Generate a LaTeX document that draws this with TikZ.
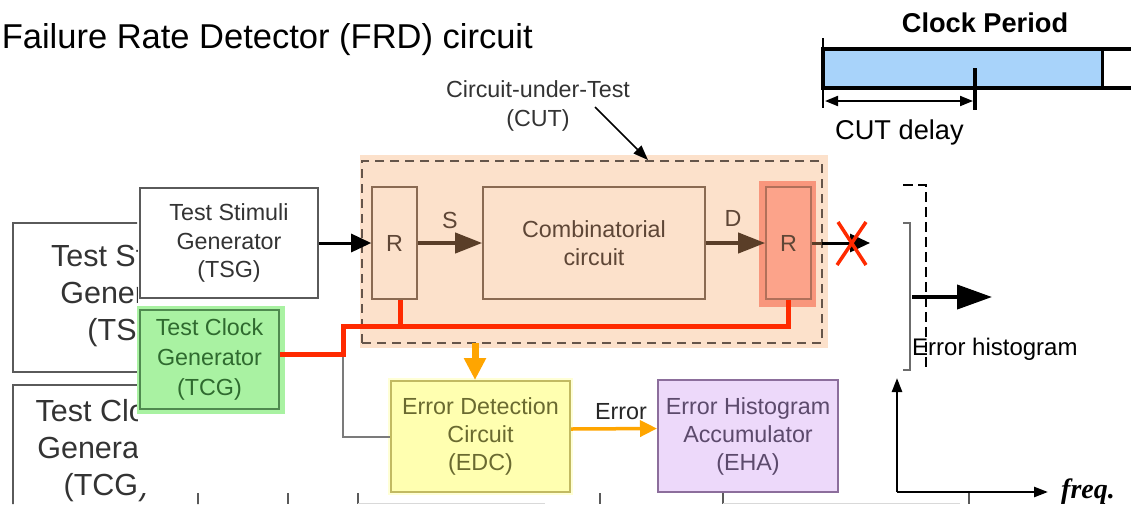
\documentclass[tikz,border=0pt]{standalone}
\usepackage{fontspec}
\setmainfont{Liberation Sans}
\newfontfamily\timesfont{Liberation Serif}
\usetikzlibrary{arrows.meta}

\definecolor{peach}{HTML}{FCE1CB}
\definecolor{cutdash}{HTML}{65554A}
\definecolor{brownln}{HTML}{8A6A52}
\definecolor{browntx}{HTML}{5E4636}
\definecolor{brownarr}{HTML}{5A3E28}
\definecolor{salmonhalo}{HTML}{F8967C}
\definecolor{salmon}{HTML}{FCA38A}
\definecolor{salmonln}{HTML}{B0705A}
\definecolor{clkred}{HTML}{FF2A00}
\definecolor{greenfill}{HTML}{A9F2A2}
\definecolor{greenln}{HTML}{4F8A4F}
\definecolor{greentx}{HTML}{2F6A2F}
\definecolor{yelfill}{HTML}{FFFFB0}
\definecolor{yelhalo}{HTML}{FFFFD6}
\definecolor{yelln}{HTML}{C2BA62}
\definecolor{yeltx}{HTML}{6A6A30}
\definecolor{purfill}{HTML}{EDD9FA}
\definecolor{purln}{HTML}{8C6E9C}
\definecolor{purtx}{HTML}{5C4A6C}
\definecolor{orng}{HTML}{FFA500}
\definecolor{barblue}{HTML}{A8D3FA}
\definecolor{txgray}{HTML}{333333}
\definecolor{boxgray}{HTML}{5A5A5A}

\newcommand\fgsize[1]{\fontsize{23.3}{#1}\selectfont}
\newcommand\bgsize{\fontsize{30.5}{37}\selectfont}

\begin{document}
\begin{tikzpicture}[x=1pt,y=-1pt,
  blockbox/.style={draw=boxgray, line width=2, inner sep=0, align=center,
    text=txgray, font=\fgsize{28.5}},
  oldtext/.style={inner sep=0, align=center, text=txgray, font=\bgsize},
  oldframe/.style={draw=boxgray, line width=2.5},
  regbox/.style={draw=brownln, line width=1.6, fill=peach, inner sep=0,
    align=center, text=browntx, font=\fgsize{28.5}},
  plainlbl/.style={inner sep=0, text=txgray, font=\fgsize{28.5}, align=center},
  blkarrow/.style={line width=3, -{Triangle[length=20pt,width=18pt]}},
  brarrow/.style={brownarr, line width=4, -{Triangle[length=27pt,width=20pt]}},
  clkline/.style={clkred, line width=5},
  orarrow/.style={orng, line width=3.5, -{Triangle[length=17pt,width=16pt]}},
  axisarrow/.style={line width=2.5, -{Triangle[length=14pt,width=10pt]}},
]
\useasboundingbox (0,0) rectangle (1131,504);

% ---------- slide underneath ----------
\node[anchor=base east, inner sep=0, font=\fontsize{34.5}{40}\selectfont]
  (title) at (533,48) {Failure Rate Detector (FRD) circuit};

% older generator blocks, mostly covered by the block diagram on top
\begin{scope}
  \clip (0,60) rectangle (137,504) (137,493) rectangle (1131,504);
  \draw[oldframe] (13,223) rectangle (243,372);
  \node[oldtext] (oldtsg) at (129,296) {Test Stimuli\\Generator\\(TSG)};
  \draw[oldframe] (13,520) -- (13,385) -- (198,385) -- (198,520);
  \node[oldtext] (oldtcg) at (106,451) {Test Clock\\Generator\\(TCG)};
\end{scope}

% edges of further blocks peeking out at the bottom
\draw[boxgray, line width=2] (288,493) -- (288,504);
\draw[boxgray, line width=2] (358,493) -- (358,504);
\draw[boxgray, line width=2] (600,493) -- (600,504);
\draw[boxgray, line width=2] (723,493) -- (723,504);
\draw[boxgray, line width=2] (969,492) -- (969,504);
\draw[gray!30, line width=1] (358,503) -- (545,503);
\draw[gray!30, line width=1] (723,503) -- (960,503);

% ---------- clock period bar ----------
\fill[barblue] (823,49) rectangle (1102,88);
\draw[line width=3.5] (823,49) rectangle (1134,88);
\draw[line width=3] (1102,49) -- (1102,88);
\draw[line width=2.5] (823,38) -- (823,108);
\draw[line width=3.5] (975,68) -- (975,110);
\coordinate (dl) at (825,101);
\coordinate (dr) at (973,101);
\draw[line width=2, {Triangle[length=13pt,width=10pt]}-{Triangle[length=13pt,width=10pt]}] (dl) -- (dr);
\node[anchor=base, inner sep=0, font=\bfseries\fontsize{27.2}{32}\selectfont]
  (clk) at (985,32) {Clock Period};
\node[anchor=base west, inner sep=0, font=\fontsize{27.2}{32}\selectfont]
  (cutdelay) at (835,139) {CUT delay};

% ---------- circuit under test ----------
\fill[peach] (360,155) rectangle (828,348);
\node[draw=cutdash, line width=2.5, dash pattern=on 9pt off 6pt,
  minimum width=460, minimum height=182, inner sep=0] (cut) at (592,252) {};

\node[plainlbl] (cutlbl) at (538,106) {Circuit-under-Test\\(CUT)};
\coordinate (lbltail) at (595,107);
\coordinate (cuttip) at (648,160);
\draw[line width=1.5, -{Triangle[length=15pt,width=11pt]}] (lbltail) -- (cuttip);

\node[regbox, minimum width=45, minimum height=112] (r1) at (394.5,243) {R};
\node[regbox, minimum width=222, minimum height=112] (comb) at (594,243)
  {Combinatorial\\circuit};
\fill[salmonhalo] (759,181) rectangle (816,307);
\node[regbox, draw=salmonln, fill=salmon, minimum width=45, minimum height=112]
  (r2) at (788.5,243) {R};

\draw[brarrow] (r1.east) -- (comb.west);
\draw[brarrow] (comb.east) -- (r2.west);
\node[plainlbl, text=browntx] (slbl) at (450,220) {S};
\node[plainlbl, text=browntx] (dlbl) at (733,218) {D};

% blocked output
\coordinate (outtip) at (870,243);
\draw[blkarrow] (r2.east) -- (outtip);
\draw[brownarr, line width=3] (r2.east) -- (822,243);
\draw[clkred, line width=3.5] (838,222) -- (866,265) (866,222) -- (837,265);

% ---------- generators ----------
\node[blockbox, fill=white, minimum width=178, minimum height=110] (tsg) at (229,243)
  {Test Stimuli\\Generator\\(TSG)};
\draw[blkarrow] (tsg.east) -- (r1.west);

\fill[greenfill] (137,306) rectangle (285,414);
\node[blockbox, draw=greenln, fill=greenfill, text=greentx, font=\fgsize{30},
  minimum width=139, minimum height=99] (tcg) at (209.5,359.5)
  {Test Clock\\Generator\\(TCG)};

% ---------- error path ----------
\fill[yelhalo] (388,378) rectangle (573,495);
\node[blockbox, draw=yelln, fill=yelfill, text=yeltx, font=\fgsize{28},
  minimum width=179, minimum height=111] (edc) at (480.5,436.5)
  {Error Detection\\Circuit\\(EDC)};
\node[blockbox, draw=purln, fill=purfill, text=purtx, font=\fgsize{28},
  minimum width=180, minimum height=112] (eha) at (748,436)
  {Error Histogram\\Accumulator\\(EHA)};

% clock distribution
\coordinate (j0) at (343,354);
\coordinate (j1) at (343,326);
\coordinate (j2) at (400,326);
\draw[boxgray!80, line width=2] (j0) -- (j0 |- edc.west) -- (edc.west);
\draw[clkline] (tcg.east |- j0) -- (j0) -- (j1) -- (r2.south |- j1) -- (r2.south);
\draw[clkline] (j2) -- (j2 |- r1.south);

\coordinate (o1) at (475,343);
\draw[orng, line width=7, -{Triangle[length=22pt,width=21pt]}] (o1) -- (o1 |- edc.north);
\draw[orarrow] ([yshift=7.5pt]edc.east) -- ([yshift=7.5pt]eha.west);
\node[plainlbl, text=black!85] (errlbl) at (621,411.7) {Error};

% ---------- error histogram ----------
\draw[gray!85!black, line width=2.5] (903,223) -- (910,223) -- (910,370) -- (903,370);
\draw[line width=2.5, dash pattern=on 10pt off 5pt] (903,185) -- (926,185) -- (926,370);
\coordinate (hs) at (912,297);
\coordinate (he) at (992,297);
\draw[line width=4, -{Triangle[length=35pt,width=24pt]}] (hs) -- (he);
\node[anchor=base west, inner sep=0, font=\fontsize{24}{28}\selectfont]
  (hist) at (912,355) {Error histogram};

\coordinate (org) at (897,492);
\coordinate (ytip) at (897,378);
\coordinate (xtip) at (1048,492);
\draw[axisarrow] (org) -- (ytip);
\draw[axisarrow] (org) -- (xtip);
\node[anchor=base west, inner sep=0, font=\timesfont\bfseries\itshape\fontsize{28}{32}\selectfont]
  (freq) at (1061,498) {freq.};
\end{tikzpicture}
\end{document}
